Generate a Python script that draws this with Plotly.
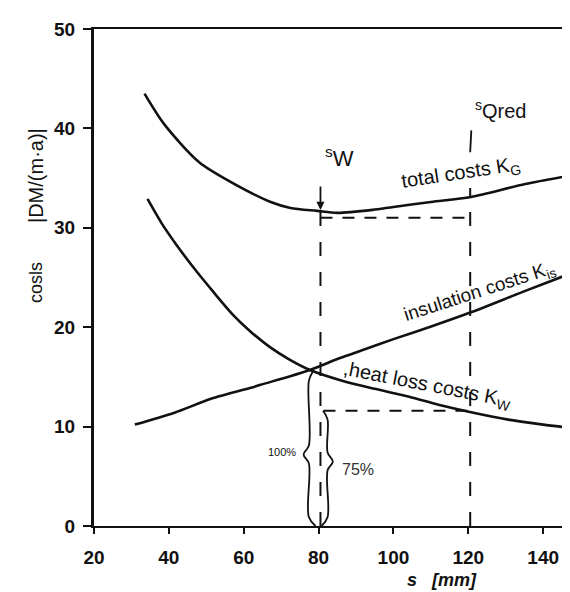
import plotly.graph_objects as go

# ---- data ----
s_total = [33.5, 38.8, 48.1, 56.6, 67.2, 72.5, 79.6, 85.0, 94.4, 100.0, 110.0, 120.7, 135.2, 149.3]
k_total = [43.5, 40.4, 36.6, 34.6, 32.6, 32.0, 31.7, 31.5, 31.8, 32.1, 32.6, 33.1, 34.4, 35.4]

s_ins = [30.9, 41.5, 51.3, 61.9, 64.5, 77.7, 85.7, 91.8, 100.0, 109.5, 120.7, 134.2, 149.3]
k_ins = [10.2, 11.4, 12.8, 13.9, 14.2, 15.7, 16.9, 17.7, 18.8, 20.0, 21.5, 23.5, 25.7]

s_heat = [34.3, 38.0, 42.0, 47.0, 52.0, 57.0, 62.0, 67.0, 72.0, 77.7, 86.5, 95.0, 104.2, 112.0, 120.1, 130.7, 140.0, 149.3]
k_heat = [32.9, 30.5, 28.3, 25.8, 23.5, 21.3, 19.5, 18.0, 16.8, 15.7, 14.6, 13.8, 13.0, 12.2, 11.5, 10.7, 10.2, 9.8]

s_W = 80.5
s_Qred = 120.5
k_total_at_W = 31.7
k_total_at_Qred = 31.0     # horizontal dashed level
k_heat_at_W = 15.5
k_heat_at_Qred = 11.6
sW_arrow_top = 34.3
sQ_dash_top = 34.0
sQ_mark = [37.6, 39.8]

x_ticks = [20, 40, 60, 80, 100, 120, 140]
y_ticks = [0, 10, 20, 30, 40, 50]

BLACK = "#111111"
fig = go.Figure()

def curve(xs, ys, width=2.6):
    fig.add_trace(go.Scatter(x=xs, y=ys, mode="lines", line=dict(color=BLACK, width=width, shape="spline", smoothing=0.8),
                             showlegend=False, hoverinfo="skip"))

def dashed(xs, ys, dash="12px,10px", width=2):
    fig.add_trace(go.Scatter(x=xs, y=ys, mode="lines", line=dict(color=BLACK, width=width, dash=dash),
                             showlegend=False, hoverinfo="skip"))

curve(s_total, k_total)
curve(s_ins, k_ins)
curve(s_heat, k_heat)

# reference lines
dashed([s_W, s_W], [0, k_total_at_W], dash="14px,16px")
dashed([s_Qred, s_Qred], [0, sQ_dash_top], dash="14px,16px")
dashed([s_W, s_Qred], [k_total_at_Qred, k_total_at_Qred])
dashed([s_W + 0.8, s_Qred], [k_heat_at_Qred, k_heat_at_Qred])
fig.add_trace(go.Scatter(x=[s_Qred + 0.3, s_Qred], y=sQ_mark[::-1], mode="lines",
                         line=dict(color=BLACK, width=1.8), showlegend=False, hoverinfo="skip"))

# braces
def brace(x0, y_top, y_bot, y_tip, w_tip, hook_top, hook_bot, r=0.9):
    xs = [x0 + hook_top, x0, x0, x0 + w_tip, x0, x0, x0 + hook_bot]
    ys = [y_top, y_top - r, y_tip + r, y_tip, y_tip - r, y_bot + r, y_bot]
    fig.add_trace(go.Scatter(x=xs, y=ys, mode="lines", line=dict(color=BLACK, width=1.8, shape="spline", smoothing=1.0),
                             showlegend=False, hoverinfo="skip"))

brace(77.4, k_heat_at_W, 0, 7.2, -1.4, 1.0, 1.8)
brace(82.4, k_heat_at_Qred, 0, 6.5, 1.4, -1.2, -1.6)

ann = []
# arrow at s_W
ann.append(dict(x=s_W, y=k_total_at_W + 0.1, ax=s_W, ay=sW_arrow_top, axref="x", ayref="y", xref="x", yref="y",
                showarrow=True, arrowhead=2, arrowsize=0.9, arrowwidth=1.8, arrowcolor=BLACK, text=""))

lab = dict(family="Liberation Sans, Arial, sans-serif", color=BLACK)
ann.append(dict(x=81.2, y=37.1, xref="x", yref="y", text="<sup>s</sup>W", showarrow=False,
                xanchor="left", yanchor="middle", font=dict(size=22, **lab)))
ann.append(dict(x=121.3, y=41.9, xref="x", yref="y", text="<sup>s</sup>Qred", showarrow=False,
                xanchor="left", yanchor="middle", font=dict(size=20, **lab)))
ann.append(dict(x=118.0, y=35.5, xref="x", yref="y", text="total costs K<sub>G</sub>", showarrow=False,
                xanchor="center", yanchor="middle", textangle=-8.6, font=dict(size=20, **lab)))
ann.append(dict(x=123.2, y=23.5, xref="x", yref="y", text="insulation costs K<sub>is</sub>", showarrow=False,
                xanchor="center", yanchor="middle", textangle=-18, font=dict(size=19, **lab)))
ann.append(dict(x=109.0, y=14.1, xref="x", yref="y", text=",heat loss costs K<sub>W</sub>", showarrow=False,
                xanchor="center", yanchor="middle", textangle=11, font=dict(size=20, **lab)))
ann.append(dict(x=74.6, y=7.4, xref="x", yref="y", text="100%", showarrow=False,
                xanchor="right", yanchor="middle", font=dict(size=11, **lab)))
ann.append(dict(x=85.6, y=5.7, xref="x", yref="y", text="75%", showarrow=False,
                xanchor="left", yanchor="middle",
                font=dict(size=16, family="Liberation Sans, Arial, sans-serif", color="#333333")))

# axis titles
ann.append(dict(x=-0.12, y=0.491, xref="paper", yref="paper", text="cosls",
                xanchor="center", yanchor="middle",
                showarrow=False, textangle=-90, font=dict(size=18, **lab)))
ann.append(dict(x=-0.12, y=0.706, xref="paper", yref="paper", text="|DM/(m·a)|",
                xanchor="center", yanchor="middle",
                showarrow=False, textangle=-90, font=dict(size=20, **lab)))
ann.append(dict(x=0.719, y=-0.108, xref="paper", yref="paper", text="<b><i>s\u00a0\u00a0\u00a0[mm]</i></b>",
                xanchor="center", yanchor="middle", borderpad=0,
                showarrow=False, font=dict(size=18, **lab)))

tickfont = dict(family="Liberation Sans, Arial, sans-serif", size=19, color=BLACK, weight="bold")
fig.update_layout(
    width=570, height=592,
    margin=dict(l=86, r=0, t=21, b=74),
    paper_bgcolor="white", plot_bgcolor="white",
    annotations=ann,
    xaxis=dict(range=[20, 149.3], tickvals=x_ticks, ticks="outside", ticklen=6, tickwidth=2, tickcolor=BLACK,
               showline=True, linewidth=2, linecolor=BLACK, mirror=True, showgrid=False, zeroline=False,
               tickfont=tickfont, ticklabelstandoff=7),
    yaxis=dict(range=[0, 50], tickvals=y_ticks, ticks="outside", ticklen=8, tickwidth=2, tickcolor=BLACK,
               showline=True, linewidth=3, linecolor=BLACK, showgrid=False, zeroline=False,
               tickfont=tickfont, ticklabelstandoff=4),
)

fig.write_html("out.html")
